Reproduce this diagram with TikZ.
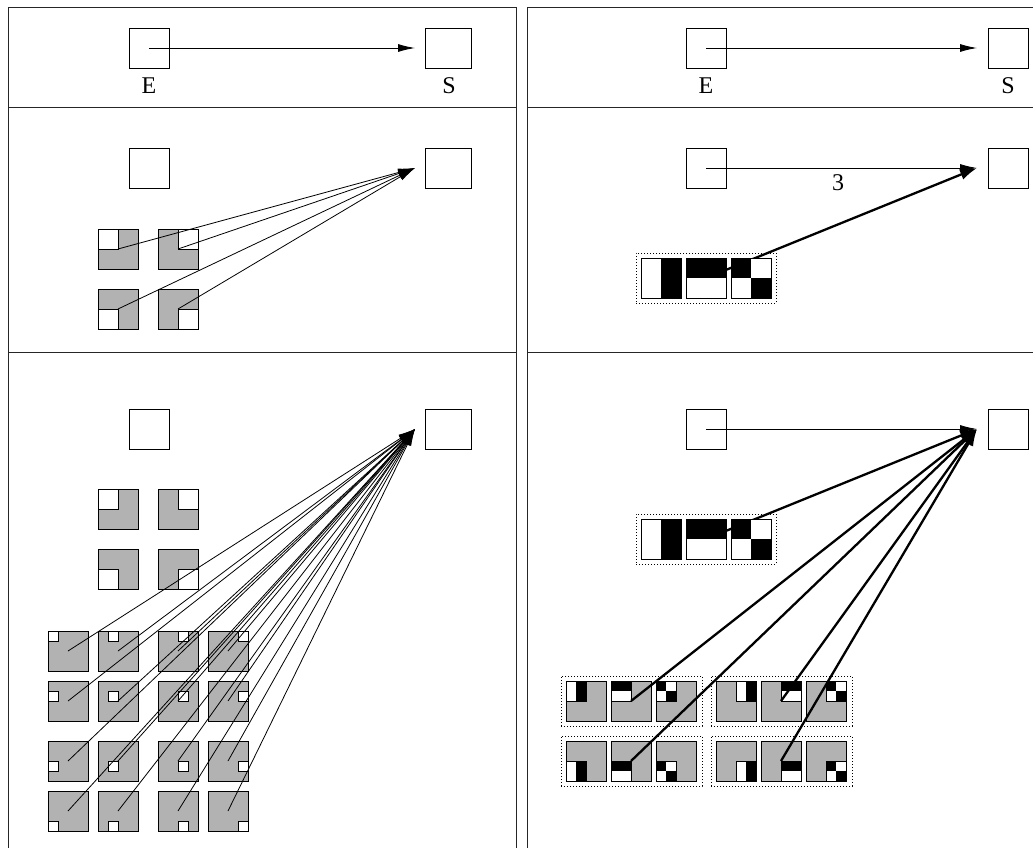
\documentclass[tikz,border=0pt]{standalone}
\usepackage{fontspec}
\setmainfont{Liberation Serif}
\usetikzlibrary{arrows.meta}
\pgfdeclarelayer{background}
\pgfsetlayers{background,main}
\newcommand\mypat[4]{% pattern #1 at top-left (#2,#3), size #4
  \ifcase#1\relax\or
    \fill[white] ({#2},{#3}) rectangle ++({#4/2},{#4});
    \fill[black] ({#2+#4/2},{#3}) rectangle ++({#4/2},{#4});
  \or
    \fill[black] ({#2},{#3}) rectangle ++({#4},{#4/2});
    \fill[white] ({#2},{#3+#4/2}) rectangle ++({#4},{#4/2});
  \or
    \fill[white] ({#2},{#3}) rectangle ++({#4},{#4});
    \fill[black] ({#2},{#3}) rectangle ++({#4/2},{#4/2});
    \fill[black] ({#2+#4/2},{#3+#4/2}) rectangle ++({#4/2},{#4/2});
  \fi
  \draw[line width=0.9pt] ({#2},{#3}) rectangle ++({#4},{#4});}
\tikzset{
  bx/.style={draw, line width=0.9pt, minimum width=40pt, minimum height=40pt, inner sep=0pt, outer sep=0pt},
  sbx/.style={bx, minimum width=46pt},
  gsq/.style={bx, fill=gray!60},
  thinarr/.style={line width=0.9pt, -{Latex[length=17pt,width=8pt]}},
  thickarr/.style={line width=2.3pt, -{Latex[length=17pt,width=11pt]}},
  dotbox/.style={draw, line width=0.9pt, dash pattern=on 0.9pt off 2.1pt, inner sep=0pt, outer sep=0pt, anchor=north west},
  panel/.style={line width=1pt, draw=black!85},
  lbl/.style={anchor=base, inner sep=0pt},
}
\begin{document}
\begin{tikzpicture}[x=1pt, y=-1pt, font=\fontsize{24pt}{28pt}\selectfont]
\clip (0,0) rectangle (1033,848);
\begin{pgfonlayer}{background}
\fill[white] (0,0) rectangle (1033,848);
\end{pgfonlayer}
% panels
\draw[panel] (8,860) -- (8,8) -- (516,8) -- (516,860);
\draw[panel] (8,108) -- (516,108);
\draw[panel] (8,352) -- (516,352);
\draw[panel] (1045,8) -- (527,8) -- (527,860);
\draw[panel] (527,108) -- (1045,108);
\draw[panel] (527,352) -- (1045,352);

% ================= LEFT PANEL =================
% row 1
\node[bx] (LE1) at (149,48) {};
\node[sbx] (LS1) at (448,48) {};
\node[lbl] (LEl) at (149,94) {E};
\node[lbl] (LSl) at (449,94) {S};
\coordinate (LT1) at (415,48);
\draw[thinarr] (LE1.center) -- (LT1);

% row 2
\node[bx] (LE2) at (149,168) {};
\node[sbx] (LS2) at (448,168) {};
\coordinate (LT2) at (415,168);
\foreach \n/\x/\y/\qx/\qy in {a/98/229/0/0, b/158/229/20/0, c/98/289/0/20, d/158/289/20/20}{
  \node[gsq, anchor=north west] (L2\n) at (\x,\y) {};
  \draw[line width=0.9pt, fill=white] ({\x+\qx},{\y+\qy}) rectangle ++(20,20);
}
\foreach \n in {a,b,c,d} \draw[thinarr, line width=0.8pt] (L2\n.center) -- (LT2);

% row 3
\node[bx] (LE3) at (149,429) {};
\node[sbx] (LS3) at (448,429) {};
\coordinate (LT3) at (415,429);
\foreach \n/\x/\y/\qx/\qy in {a/98/489/0/0, b/158/489/20/0, c/98/549/0/20, d/158/549/20/20}{
  \node[gsq, anchor=north west] (L3\n) at (\x,\y) {};
  \draw[line width=0.9pt, fill=white] ({\x+\qx},{\y+\qy}) rectangle ++(20,20);
}
\foreach \c/\x in {0/48,1/98,2/158,3/208}{
  \foreach \r/\y in {0/631,1/681,2/741,3/791}{
    \node[gsq, anchor=north west] (g\c\r) at (\x,\y) {};
    \draw[line width=0.8pt, fill=white] ({\x+10*\c},{\y+10*\r}) rectangle ++(10,10);
  }
}
\foreach \c in {0,1,2,3}{
  \foreach \r in {0,1,2,3}{
    \draw[thinarr, line width=0.8pt] (g\c\r.center) -- (LT3);
  }
}

% ================= RIGHT PANEL =================
% row 1
\node[bx] (RE1) at (706,48) {};
\node[bx] (RS1) at (1008,48) {};
\node[lbl] (REl) at (706,94) {E};
\node[lbl] (RSl) at (1008,94) {S};
\coordinate (RT1) at (977,48);
\draw[thinarr] (RE1.center) -- (RT1);

% row 2
\node[bx] (RE2) at (706,168) {};
\node[bx] (RS2) at (1008,168) {};
\coordinate (RT2) at (977,168);
\draw[thinarr] (RE2.center) -- (RT2);
\node[dotbox, minimum width=140pt, minimum height=50pt] (PB2) at (636,253) {};
\foreach \k/\x in {1/641,2/686,3/731}{
  \node[bx, anchor=north west] (P2\k) at (\x,258) {};
  \mypat{\k}{\x}{258}{40}
}
\begin{pgfonlayer}{background}
\draw[thickarr] (P22.center) -- (RT2);
\end{pgfonlayer}
\node[lbl] (n3) at (838,190) {3};

% row 3
\node[bx] (RE3) at (706,429) {};
\node[bx] (RS3) at (1008,429) {};
\coordinate (RT3) at (977,429);
\draw[thinarr] (RE3.center) -- (RT3);
\node[dotbox, minimum width=140pt, minimum height=50pt] (PB3) at (636,514) {};
\foreach \k/\x in {1/641,2/686,3/731}{
  \node[bx, anchor=north west] (P3\k) at (\x,519) {};
  \mypat{\k}{\x}{519}{40}
}
\begin{pgfonlayer}{background}
\draw[thickarr] (P32.center) -- (RT3);
\end{pgfonlayer}

\foreach \gi/\gx/\gy/\qx/\qy in {1/566/681/0/0, 2/716/681/20/0, 3/566/741/0/20, 4/716/741/20/20}{
  \node[dotbox, minimum width=141pt, minimum height=50pt] (D\gi) at ({\gx-5},{\gy-5}) {};
  \foreach \k in {1,2,3}{
    \pgfmathsetmacro\sx{\gx+45*(\k-1)}
    \pgfmathsetmacro\px{\sx+\qx}
    \pgfmathsetmacro\py{\gy+\qy}
    \node[gsq, anchor=north west] (G\gi\k) at (\sx,\gy) {};
    \mypat{\k}{\px}{\py}{20}
  }
}
\foreach \gi in {1,2,3,4} \draw[thickarr] (G\gi2.center) -- (RT3);
\end{tikzpicture}
\end{document}
